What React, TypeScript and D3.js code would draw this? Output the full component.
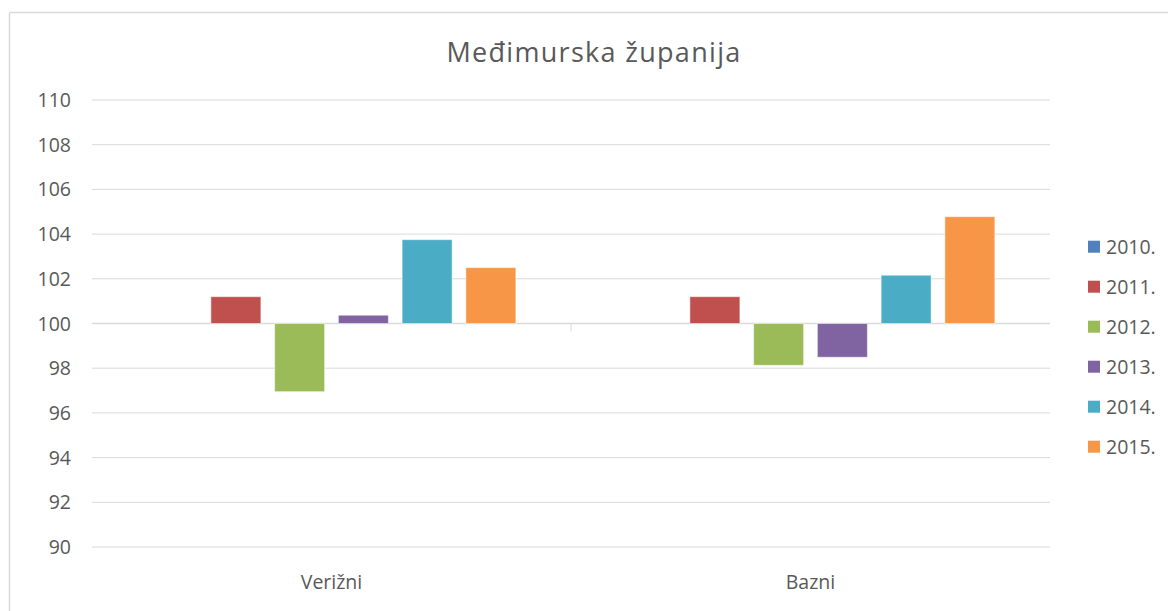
import React from "react";
import * as d3 from "d3";

const categories = ["Verižni", "Bazni"];
const seriesNames = ["2010.", "2011.", "2012.", "2013.", "2014.", "2015."];
const seriesColors = ["#4F81BD", "#C0504D", "#9BBB59", "#8064A2", "#4BACC6", "#F79646"];
// values per series, in category order [Verižni, Bazni]
const s2010 = [100, 100];
const s2011 = [101.2, 101.2];
const s2012 = [96.95, 98.13];
const s2013 = [100.37, 98.49];
const s2014 = [103.75, 102.16];
const s2015 = [102.5, 104.78];
const seriesValues = [s2010, s2011, s2012, s2013, s2014, s2015];
const yTicks = [90, 92, 94, 96, 98, 100, 102, 104, 106, 108, 110];
const title = "Međimurska županija";

const W = 1168;
const H = 611;
const plotLeft = 92;
const plotRight = 1050;
const font = "'Open Sans', 'Noto Sans', sans-serif";
const textColor = "#595959";
const gridColor = "#d9d9d9";

export default function App() {
  const y = d3.scaleLinear().domain([90, 110]).range([547, 100]);
  const x0 = d3.scaleBand<string>().domain(categories).range([plotLeft, plotRight]).padding(0);
  const x1 = d3
    .scaleBand<string>()
    .domain(seriesNames)
    .range([0, x0.bandwidth()])
    .paddingInner(0.2157)
    .paddingOuter(0.865);
  const base = 100;

  return (
    <svg
      width={W}
      height={H}
      style={{ position: "absolute", left: 0, top: 0, background: "#fff" }}
      fontFamily={font}
    >
      {/* chart border */}
      <line x1={9.5} y1={12.5} x2={W} y2={12.5} stroke={gridColor} strokeWidth={1.5} />
      <line x1={9.5} y1={12.5} x2={9.5} y2={H} stroke={gridColor} strokeWidth={1.5} />

      <text x={594} y={62} textAnchor="middle" fontSize={27} letterSpacing={1.3} fill={textColor}>
        {title}
      </text>

      {/* gridlines + ticks */}
      {yTicks.map((t) => (
        <g key={t}>
          <line x1={plotLeft} x2={plotRight} y1={y(t)} y2={y(t)} stroke={gridColor} strokeWidth={1} />
          <text x={71} y={y(t)} dy="0.36em" textAnchor="end" fontSize={19.5} fill={textColor}>
            {t}
          </text>
        </g>
      ))}

      {/* category axis at 100 */}
      <line x1={plotLeft} x2={plotRight} y1={y(base)} y2={y(base)} stroke={gridColor} strokeWidth={1.5} />
      {categories.slice(1).map((c) => (
        <line key={c} x1={x0(c)!} x2={x0(c)!} y1={y(base)} y2={y(base) + 8} stroke={gridColor} strokeWidth={1} />
      ))}

      {/* bars */}
      {categories.map((c, ci) =>
        seriesNames.map((s, si) => {
          const v = seriesValues[si][ci];
          const top = Math.min(y(v), y(base));
          const h = Math.abs(y(v) - y(base));
          return (
            <rect
              key={c + s}
              x={x0(c)! + x1(s)!}
              y={top}
              width={x1.bandwidth()}
              height={h}
              fill={seriesColors[si]}
              stroke="#ffffff"
              strokeOpacity={0.5}
              strokeWidth={1}
            />
          );
        })
      )}

      {/* category labels */}
      {categories.map((c) => (
        <text key={c} x={x0(c)! + x0.bandwidth() / 2} y={589} textAnchor="middle" fontSize={19.5} fill={textColor}>
          {c}
        </text>
      ))}

      {/* legend */}
      {seriesNames.map((s, i) => {
        const cy = 246.7 + i * 40;
        return (
          <g key={s}>
            <rect x={1088} y={cy - 6} width={12} height={12} fill={seriesColors[i]} />
            <text x={1106} y={cy} dy="0.36em" fontSize={19.5} fill={textColor}>
              {s}
            </text>
          </g>
        );
      })}
    </svg>
  );
}
